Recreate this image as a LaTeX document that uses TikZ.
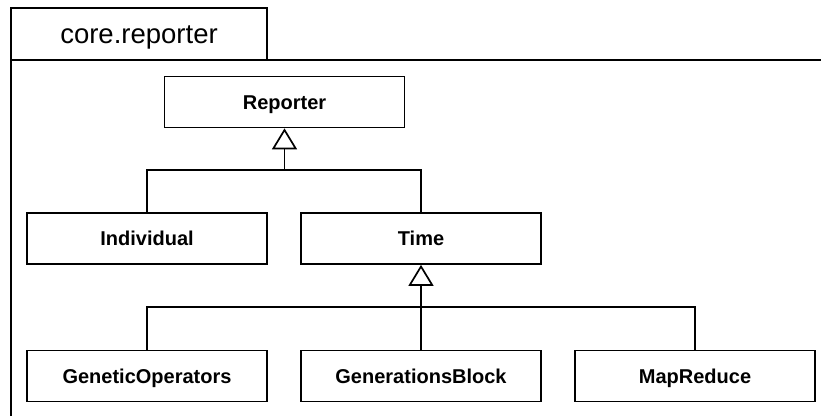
\documentclass[tikz,border=0pt]{standalone}
\usepackage{fontspec}
\setmainfont{Liberation Sans}
\usetikzlibrary{arrows.meta}
\begin{document}
\begin{tikzpicture}[x=1pt,y=-1pt,
  cls/.style={draw, line width=1.7pt, minimum width=240pt, minimum height=51pt,
    inner sep=0pt, text height=14.3pt, text depth=0pt,
    font=\fontsize{20}{24}\selectfont\bfseries},
  link/.style={line width=1.7pt},
  inherit/.style={link, -{Triangle[open,length=21pt,width=25pt,line width=1.7pt]}}]
\useasboundingbox (0,0) rectangle (821,416);
% package frame
\draw[line width=1.7pt] (11,416) -- (11,8) -- (267,8) -- (267,60);
\draw[line width=1.7pt] (11,60) -- (821,60);
\node[font=\fontsize{27.5}{30}\selectfont, text height=19.7pt, text depth=0pt, inner sep=0pt] (pkg) at (139,34) {core.reporter};
% classes
\node[cls] (rep) at (284.5,102) {Reporter};
\node[cls] (ind) at (147,238.5) {Individual};
\node[cls] (time) at (421,238.5) {Time};
\node[cls] (gen) at (147,376) {GeneticOperators};
\node[cls] (gb) at (421,376) {GenerationsBlock};
\node[cls] (mr) at (695,376) {MapReduce};
% junctions
\coordinate (j1) at (284.5,170);
\coordinate (j2) at (421,307);
% generalisations
\draw[inherit] (j1) -- (rep.south);
\draw[link] (ind.north) |- (j1) -| (time.north);
\draw[inherit] (gb.north) -- (time.south);
\draw[link] (gen.north) |- (j2) -| (mr.north);
\end{tikzpicture}
\end{document}
